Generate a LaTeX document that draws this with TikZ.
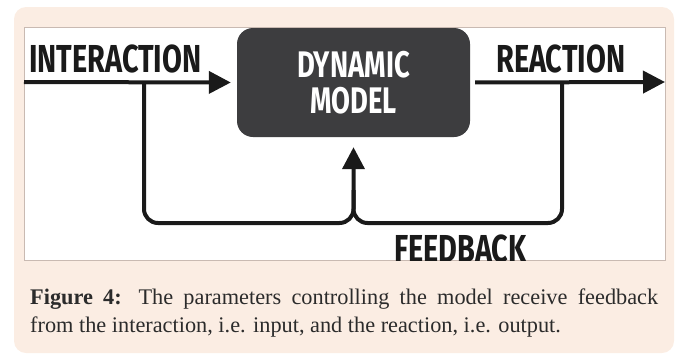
\documentclass[tikz,border=0pt]{standalone}
\usepackage{fontspec}
\setmainfont{Liberation Serif}
\newfontfamily\headfont{Fira Sans}[FakeStretch=0.74]
\usetikzlibrary{arrows.meta}
\definecolor{peach}{HTML}{FBEDE3}
\definecolor{panelline}{HTML}{C9BAB2}
\definecolor{boxdark}{HTML}{3D3D3F}
\definecolor{ink}{HTML}{1A1A1A}
\definecolor{captext}{HTML}{2B2B2B}
\begin{document}
\begin{tikzpicture}[x=1pt,y=-1pt,
  heading/.style={font=\headfont\bfseries\fontsize{39}{39}\selectfont, text=ink, inner sep=0pt},
  flow/.style={line width=4pt, draw=ink},
  tip/.style={-{Triangle[length=22pt,width=22pt]}},
  captionline/.style={anchor=base west, inner sep=0pt, text=captext, font=\fontsize{22.3}{28}\selectfont}
]
\useasboundingbox (0,0) rectangle (680,354);
\fill[peach, rounded corners=12pt] (14,7) rectangle (674,353);
\fill[white] (24,27) rectangle (665,260);
\draw[panelline, line width=1pt] (24,27) rectangle (665,260);

\node[fill=boxdark, rounded corners=16pt, minimum width=233pt, minimum height=109pt,
  inner sep=0pt, text=white, align=center,
  font=\headfont\bfseries\fontsize{37}{36}\selectfont] (model) at (353.5,82.5) {DYNAMIC\\MODEL};

\coordinate (inStart) at (24,82);
\coordinate (inSplit) at (144,82);
\coordinate (outSplit) at (562,82);
\coordinate (outEnd) at (665,82);
\coordinate (join) at (353.5,223);
\coordinate (joinUp) at (353.5,190);

\draw[flow, tip, shorten >=6pt] (inStart) -- (model.west);
\draw[flow, tip, shorten <=5pt] (model.east) -- (outEnd);
\draw[flow, rounded corners=14pt] (outSplit) |- (join) -- (joinUp);
\draw[flow, tip, rounded corners=14pt, shorten >=10pt] (inSplit) |- (join) -- (model.south);

\node[heading, anchor=base west] (inLabel) at (29,72) {INTERACTION};
\node[heading, anchor=base west] (outLabel) at (496,72) {REACTION};
\begin{scope}
  \clip (24,27) rectangle (665,260);
  \node[heading, anchor=base west] (fbLabel) at (394,262) {FEEDBACK};
\end{scope}

\node[captionline] (cap1) at (30,304) {\makebox[628pt][s]{\textbf{Figure 4:} The parameters controlling the model receive feedback}};
\node[captionline] (cap2) at (30,332) {from the interaction, i.e. input, and the reaction, i.e. output.};
\end{tikzpicture}
\end{document}
